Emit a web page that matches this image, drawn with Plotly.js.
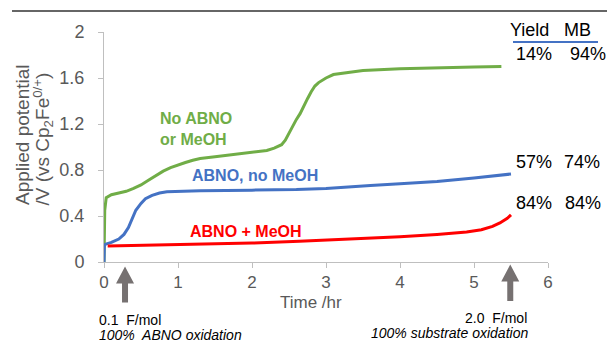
<!DOCTYPE html>
<html>
<head>
<meta charset="utf-8">
<script src="https://cdn.plot.ly/plotly-3.0.1.min.js"></script>
<style>html,body{margin:0;padding:0;background:#fff;}#chart{width:607px;height:346px;}</style>
</head>
<body>
<div id="chart"></div>
<script>
// Time (hr) and applied potential (V) for each condition
var greenTime = [0, 0.01, 0.03, 0.1, 0.2, 0.3, 0.4, 0.5, 0.6, 0.7, 0.8, 0.9, 1.0, 1.1, 1.2, 1.3, 1.5, 1.75, 2.0, 2.2, 2.3, 2.4, 2.45, 2.5, 2.55, 2.6, 2.65, 2.7, 2.75, 2.8, 2.85, 2.9, 3.0, 3.1, 3.3, 3.5, 4.0, 4.5, 5.0, 5.37];
var greenV    = [0, 0.45, 0.56, 0.585, 0.6, 0.615, 0.64, 0.67, 0.71, 0.75, 0.79, 0.82, 0.845, 0.865, 0.885, 0.9, 0.915, 0.935, 0.95, 0.97, 0.99, 1.02, 1.06, 1.12, 1.19, 1.24, 1.29, 1.36, 1.42, 1.48, 1.53, 1.56, 1.6, 1.63, 1.65, 1.665, 1.68, 1.69, 1.695, 1.7];

var blueTime = [0, 0.005, 0.02, 0.1, 0.2, 0.27, 0.33, 0.38, 0.43, 0.5, 0.56, 0.65, 0.75, 0.85, 1.0, 1.3, 2.0, 2.6, 3.0, 3.3, 3.6, 4.0, 4.5, 5.0, 5.5];
var blueV    = [0, 0.14, 0.155, 0.17, 0.2, 0.24, 0.3, 0.37, 0.45, 0.51, 0.55, 0.58, 0.6, 0.61, 0.615, 0.62, 0.625, 0.63, 0.64, 0.65, 0.665, 0.68, 0.7, 0.73, 0.765];

var redTime = [0.05, 0.5, 1.0, 1.5, 2.0, 2.64, 3.0, 3.5, 4.0, 4.5, 4.9, 5.1, 5.25, 5.35, 5.45, 5.5];
var redV    = [0.14, 0.145, 0.15, 0.155, 0.165, 0.18, 0.19, 0.205, 0.22, 0.24, 0.26, 0.28, 0.31, 0.34, 0.38, 0.41];

var seriesNames = ["No ABNO<br>or MeOH", "ABNO, no MeOH", "ABNO + MeOH"];
var yieldLabels = ["14%", "57%", "84%"];
var mbLabels    = ["94%", "74%", "84%"];
var arrowTimes  = [0.284, 5.49];
var arrowLine1  = ["0.1  F/mol", "2.0  F/mol"];
var arrowLine2  = ["100%  ABNO oxidation", "100% substrate oxidation"];

var GREEN = "#70AD47", BLUE = "#4472C4", RED = "#FF0000";
var FONT = "Liberation Sans, Arial, sans-serif";

var traces = [
  {x: greenTime, y: greenV, mode: "lines", line: {color: GREEN, width: 3}, hoverinfo: "skip"},
  {x: blueTime, y: blueV, mode: "lines", line: {color: BLUE, width: 3}, hoverinfo: "skip"},
  {x: redTime, y: redV, mode: "lines", line: {color: RED, width: 3}, hoverinfo: "skip"}
];

// helpers: pixel -> paper
var L = 104, R = 548, T = 32, B = 262;
function px(x){ return (x - L) / (R - L); }
function py(y){ return (B - y) / (B - T); }
var hrPerPx = 6 / (R - L);

var ann = [];
// series labels
ann.push({xref:"x", yref:"y", x:0.73, y:1.157, xanchor:"left", yanchor:"middle", align:"left", showarrow:false,
  text:"<b>"+seriesNames[0]+"</b>", font:{family:FONT, size:16, color:GREEN}});
ann.push({xref:"x", yref:"y", x:1.165, y:0.748, xanchor:"left", yanchor:"middle", showarrow:false,
  text:"<b>"+seriesNames[1]+"</b>", font:{family:FONT, size:16, color:BLUE}});
ann.push({xref:"x", yref:"y", x:1.135, y:0.264, xanchor:"left", yanchor:"middle", showarrow:false,
  text:"<b>"+seriesNames[2]+"</b>", font:{family:FONT, size:16, color:RED}});

// table header
ann.push({xref:"paper", yref:"paper", x:px(508), y:py(30), xanchor:"left", yanchor:"middle", showarrow:false,
  text:"Yield", font:{family:FONT, size:18, color:"#000"}});
ann.push({xref:"paper", yref:"paper", x:px(562), y:py(30), xanchor:"left", yanchor:"middle", showarrow:false,
  text:"MB", font:{family:FONT, size:18, color:"#000"}});
var rowY = [54, 162, 203];
var mbX = [568, 562, 563];
for (var i = 0; i < 3; i++) {
  ann.push({xref:"paper", yref:"paper", x:px(514), y:py(rowY[i]), xanchor:"left", yanchor:"middle", showarrow:false,
    text:yieldLabels[i], font:{family:FONT, size:18, color:"#000"}});
  ann.push({xref:"paper", yref:"paper", x:px(mbX[i]), y:py(rowY[i]), xanchor:"left", yanchor:"middle", showarrow:false,
    text:mbLabels[i], font:{family:FONT, size:18, color:"#000"}});
}

// arrow captions
ann.push({xref:"paper", yref:"paper", x:px(97), y:py(320), xanchor:"left", yanchor:"middle", showarrow:false,
  text:arrowLine1[0], font:{family:FONT, size:14, color:"#000"}});
ann.push({xref:"paper", yref:"paper", x:px(97), y:py(335), xanchor:"left", yanchor:"middle", showarrow:false,
  text:"<i>"+arrowLine2[0]+"</i>", font:{family:FONT, size:14, color:"#000"}});
ann.push({xref:"paper", yref:"paper", x:px(529), y:py(318), xanchor:"right", yanchor:"middle", showarrow:false,
  text:arrowLine1[1], font:{family:FONT, size:14, color:"#000"}});
ann.push({xref:"paper", yref:"paper", x:px(530), y:py(333), xanchor:"right", yanchor:"middle", showarrow:false,
  text:"<i>"+arrowLine2[1]+"</i>", font:{family:FONT, size:14, color:"#000"}});

// axis titles
ann.push({xref:"paper", yref:"paper", x:px(311), y:py(302), xanchor:"center", yanchor:"middle", showarrow:false,
  text:"Time /hr", font:{family:FONT, size:17, color:"#595959"}});
ann.push({xref:"paper", yref:"paper", x:px(22), y:py(135), xanchor:"center", yanchor:"middle", showarrow:false, textangle:-90,
  text:"Applied potential", font:{family:FONT, size:19, color:"#595959"}});
ann.push({xref:"paper", yref:"paper", x:px(43), y:py(138.5), xanchor:"center", yanchor:"middle", showarrow:false, textangle:-90,
  text:"/V (vs Cp<sub>2</sub>Fe<sup>0/+</sup>)", font:{family:FONT, size:19, color:"#595959"}});

var shapes = [
  {type:"line", xref:"paper", yref:"paper", x0:px(12), x1:px(607), y0:py(11), y1:py(11), line:{color:"#333333", width:1.5}},
  {type:"line", xref:"paper", yref:"paper", x0:px(513), x1:px(598), y0:py(42), y1:py(42), line:{color:BLUE, width:2}}
];
// block arrows pointing up at the marked times
var tipY = [266.5, 264.5], tailY = [302.5, 301];
for (var j = 0; j < 2; j++) {
  var t = arrowTimes[j], s = 3 * hrPerPx, h = 9 * hrPerPx;
  var yTail = py(tailY[j]), yNeck = py(tipY[j] + 17), yTip = py(tipY[j]);
  var p = "M" + (t - s) + "," + yTail + " L" + (t + s) + "," + yTail + " L" + (t + s) + "," + yNeck +
          " L" + (t + h) + "," + yNeck + " L" + t + "," + yTip + " L" + (t - h) + "," + yNeck +
          " L" + (t - s) + "," + yNeck + " Z";
  shapes.push({type:"path", xref:"x", yref:"paper", path:p, fillcolor:"#767171", line:{width:0}, layer:"above"});
}

var axisCommon = {showgrid:false, zeroline:false, showline:true, linecolor:"#BFBFBF", linewidth:1,
  ticks:"outside", tickcolor:"#BFBFBF", ticklen:5, fixedrange:true};

var layout = {
  width:607, height:346,
  margin:{l:L, r:607-R, t:T, b:346-B, pad:0},
  paper_bgcolor:"#fff", plot_bgcolor:"#fff",
  showlegend:false,
  xaxis: Object.assign({}, axisCommon, {range:[0,6], dtick:1, tick0:0,
    tickfont:{family:FONT, size:17, color:"#595959"}}),
  yaxis: Object.assign({}, axisCommon, {range:[0,2], dtick:0.4, tick0:0, ticksuffix:"\u00a0\u00a0",
    tickfont:{family:FONT, size:18, color:"#595959"}}),
  annotations: ann,
  shapes: shapes,
  font:{family:FONT}
};

Plotly.newPlot("chart", traces, layout, {staticPlot:true, displayModeBar:false});
</script>
</body>
</html>
